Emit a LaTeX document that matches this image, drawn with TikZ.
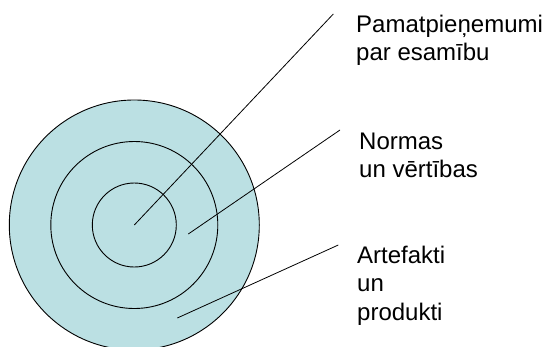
\documentclass[tikz,border=0pt]{standalone}
\usepackage{fontspec}
\setmainfont{Liberation Sans}
\definecolor{ringfill}{RGB}{187,224,227}
\begin{document}
\begin{tikzpicture}[x=1pt,y=-1pt,
  ring/.style={draw=black,line width=0.9pt},
  label/.style={anchor=base west,inner sep=0pt,align=left,font=\fontsize{24}{28.5}\selectfont},
  leader/.style={draw=black,line width=0.8pt}]
\useasboundingbox (0,0) rectangle (546,346);
\coordinate (c) at (134.3,225);
\fill[ringfill] (c) circle[radius=125];
\draw[ring] (c) circle[radius=125];
\draw[ring] (c) circle[radius=83.5];
\draw[ring] (c) circle[radius=42];
% base anchor = baseline of the last line
\node[label] (t1) at (356,60.5) {Pamatpieņemumi\\par esamību};
\node[label] (t2) at (359,177.5) {Normas\\un vērtības};
\node[label] (t3) at (357,320) {Artefakti\\un\\produkti};
\coordinate (a1) at (134.3,225);
\coordinate (b1) at (333.3,14);
\coordinate (a2) at (188.3,234);
\coordinate (b2) at (340,130);
\coordinate (a3) at (177.3,318);
\coordinate (b3) at (338.3,245);
\draw[leader] (a1) -- (b1);
\draw[leader] (a2) -- (b2);
\draw[leader] (a3) -- (b3);
\end{tikzpicture}
\end{document}
